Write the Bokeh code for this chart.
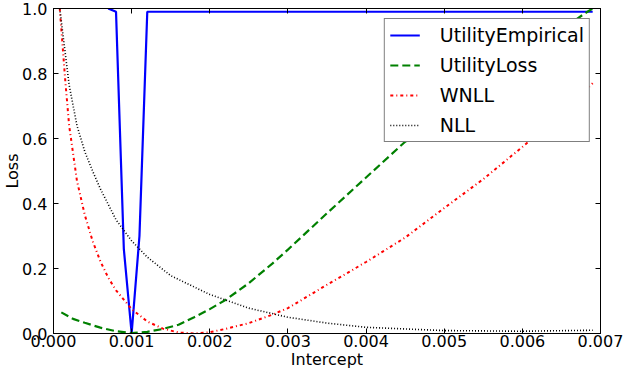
from bokeh.plotting import figure
from bokeh.models import (Range1d, FixedTicker, NumeralTickFormatter, Legend, LegendItem,
                          LinearAxis, CustomJSTickFormatter)
from bokeh.embed import file_html
from bokeh.resources import INLINE

# ---- data ----
emp_x = [0.0007, 0.0008, 0.0009, 0.0010, 0.0011, 0.0012, 0.0069]
emp_y = [1.0, 0.99, 0.26, 0.0, 0.30, 0.99, 0.99]

uloss_x = [0.0001, 0.00025, 0.0004, 0.0006, 0.0008, 0.0010, 0.0012, 0.0014, 0.0016, 0.0018,
           0.0020, 0.0022, 0.0025, 0.0028, 0.0030, 0.0035, 0.0040, 0.0045, 0.0050, 0.0055,
           0.0060, 0.0065, 0.0068, 0.0069]
uloss_y = [0.065, 0.045, 0.033, 0.018, 0.007, 0.001, 0.005, 0.014, 0.027, 0.05,
           0.075, 0.103, 0.155, 0.215, 0.258, 0.37, 0.48, 0.59, 0.68, 0.77,
           0.855, 0.935, 0.985, 1.0]

wnll_x = [0.00008, 0.00015, 0.0002, 0.0003, 0.0004, 0.0005, 0.0006, 0.0007, 0.0008, 0.0010,
          0.0012, 0.0014, 0.0016, 0.0018, 0.0020, 0.0022, 0.0025, 0.0028, 0.0030, 0.0035,
          0.0040, 0.0045, 0.0050, 0.0055, 0.0060, 0.0065, 0.0069]
wnll_y = [1.0, 0.78, 0.64, 0.47, 0.365, 0.285, 0.222, 0.172, 0.133, 0.075,
          0.037, 0.015, 0.003, 0.0, 0.004, 0.014, 0.032, 0.058, 0.078, 0.15,
          0.22, 0.295, 0.386, 0.475, 0.574, 0.675, 0.77]

nll_x = [0.00008, 0.0002, 0.0003, 0.0004, 0.0005, 0.0006, 0.0008, 0.0010, 0.0012, 0.0015,
         0.0020, 0.0025, 0.0030, 0.0035, 0.0040, 0.0050, 0.0060, 0.0069]
nll_y = [1.0, 0.765, 0.64, 0.56, 0.50, 0.445, 0.35, 0.285, 0.235, 0.178,
         0.12, 0.078, 0.05, 0.032, 0.019, 0.009, 0.007, 0.01]

x_ticks = [0.000, 0.001, 0.002, 0.003, 0.004, 0.005, 0.006, 0.007]
y_ticks = [0.0, 0.2, 0.4, 0.6, 0.8, 1.0]
x_min, x_max = 0.0, 0.007
y_min, y_max = 0.0, 1.0

FONT = "DejaVu Sans"

p = figure(width=624, height=371, output_backend="svg", toolbar_location=None,
           x_range=Range1d(x_min, x_max), y_range=Range1d(y_min, y_max),
           min_border_left=42, min_border_right=24, min_border_top=8, min_border_bottom=0)
p.grid.visible = False
p.outline_line_color = "black"
p.background_fill_color = "white"
p.border_fill_color = "white"

r_emp = p.line(emp_x, emp_y, line_color="#0000ff", line_width=2.2)
r_ul = p.line(uloss_x, uloss_y, line_color="#008000", line_width=2.2, line_dash="8 4")
r_wn = p.line(wnll_x, wnll_y, line_color="#ff0000", line_width=2, line_dash="3 3 1 3")
r_nl = p.line(nll_x, nll_y, line_color="#000000", line_width=1.6, line_dash="1 2")

def style_axis(ax, ticks):
    ax.ticker = FixedTicker(ticks=ticks)
    ax.major_tick_in = 5
    ax.major_tick_out = 0
    ax.minor_tick_in = 0
    ax.minor_tick_out = 0
    ax.axis_line_color = "black"
    ax.major_tick_line_color = "black"
    ax.major_label_text_font = FONT
    ax.major_label_text_color = "black"
    ax.major_label_text_font_size = "16px"
    ax.axis_label_text_font = FONT
    ax.axis_label_text_font_style = "normal"
    ax.axis_label_text_color = "black"
    ax.axis_label_text_font_size = "16px"

xa = p.xaxis[0]
style_axis(xa, x_ticks)
xa.formatter = NumeralTickFormatter(format="0.000")
xa.axis_label = "Intercept"
xa.major_label_standoff = 1
xa.axis_label_standoff = 0

ya = p.yaxis[0]
style_axis(ya, y_ticks)
ya.formatter = NumeralTickFormatter(format="0.0")
ya.axis_label = "Loss"
ya.major_label_standoff = 6
ya.axis_label_standoff = -3

# top and right axes: inward ticks only, no labels (as in the reference)
blank = CustomJSTickFormatter(code="return '';")
top = LinearAxis(formatter=blank)
style_axis(top, x_ticks)
top.major_label_standoff = 0
top.major_label_text_font_size = "1px"
p.add_layout(top, "above")
right = LinearAxis(formatter=blank)
style_axis(right, y_ticks)
right.major_label_standoff = 0
right.major_label_text_font_size = "1px"
p.add_layout(right, "right")

legend = Legend(items=[
    LegendItem(label="UtilityEmpirical", renderers=[r_emp]),
    LegendItem(label="UtilityLoss", renderers=[r_ul]),
    LegendItem(label="WNLL", renderers=[r_wn]),
    LegendItem(label="NLL", renderers=[r_nl]),
], location="top_right")
legend.label_text_font = FONT
legend.label_text_font_size = "19px"
legend.label_text_color = "black"
legend.border_line_color = "black"
legend.border_line_width = 1
legend.background_fill_alpha = 1.0
legend.glyph_width = 30
legend.glyph_height = 22
legend.label_height = 22
legend.label_standoff = 20
legend.spacing = 8
legend.padding = 5
legend.margin = 10
p.add_layout(legend)

open("out.html", "w").write(file_html(p, INLINE))
